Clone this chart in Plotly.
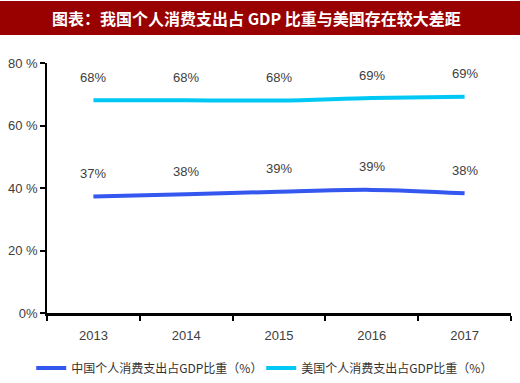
import plotly.graph_objects as go

years = ["2013", "2014", "2015", "2016", "2017"]
china = [37.3, 38.0, 38.8, 39.4, 38.3]
usa = [68.1, 68.1, 68.0, 68.8, 69.2]
china_labels = ["37%", "38%", "39%", "39%", "38%"]
usa_labels = ["68%", "68%", "68%", "69%", "69%"]
y_ticks = [0, 20, 40, 60, 80]
y_ticktext = ["0%", "20 %", "40 %", "60 %", "80 %"]
title_text = "<b>图表：我国个人消费支出占 GDP 比重与美国存在较大差距</b>"
names = ["中国个人消费支出占GDP比重（%）", "美国个人消费支出占GDP比重（%）"]

CH_COLOR = "#3457F0"
US_COLOR = "#00C8F5"
LAB_FONT = "Liberation Sans Narrow, Arial Narrow, Liberation Sans, sans-serif"
CJK = "Noto Sans CJK SC, sans-serif"

fig = go.Figure()
fig.add_trace(go.Scatter(x=years, y=china, mode="lines", name=names[0],
                         line=dict(color=CH_COLOR, width=4, shape="spline")))
fig.add_trace(go.Scatter(x=years, y=usa, mode="lines", name=names[1],
                         line=dict(color=US_COLOR, width=4, shape="spline")))

for ys, labs in [(china, china_labels), (usa, usa_labels)]:
    for i, (y, t) in enumerate(zip(ys, labs)):
        fig.add_annotation(x=i, y=y, text=t, showarrow=False, yshift=23,
                           font=dict(family=LAB_FONT, size=13, color="#404040"))

# title bar
fig.add_shape(type="rect", xref="paper", yref="paper",
              x0=-47/464, x1=473/464, y0=1 + 28/250, y1=1 + 62/250,
              fillcolor="#990000", line=dict(width=0), layer="below")
fig.add_annotation(xref="paper", yref="paper", x=(256-47)/464, y=1 + 45/250,
                   text=title_text, showarrow=False, yanchor="middle",
                   font=dict(family=CJK, size=16, color="white"))

fig.update_layout(
    width=520, height=383,
    margin=dict(l=47, r=9, t=63, b=70, autoexpand=False),
    paper_bgcolor="white", plot_bgcolor="white",
    showlegend=True,
    legend=dict(orientation="h", x=-0.034, y=-0.22, yanchor="middle", xanchor="left",
                font=dict(family=CJK, size=12, color="#333333"),
                entrywidth=185, entrywidthmode="pixels", bgcolor="rgba(0,0,0,0)"),
    xaxis=dict(type="category", range=[-0.5, 4.5], showgrid=False, showline=True,
               linecolor="black", linewidth=3, ticks="outside", tickson="boundaries",
               ticklen=5, tickcolor="black", tickwidth=1.5, ticklabelstandoff=8,
               tickfont=dict(family=LAB_FONT, size=13, color="#404040")),
    yaxis=dict(range=[0, 80], tickvals=y_ticks, ticktext=y_ticktext, showgrid=False,
               zeroline=False, showline=True, linecolor="black", linewidth=1.5,
               ticks="outside", ticklen=5, tickcolor="black", tickwidth=2,
               tickfont=dict(family=LAB_FONT, size=13, color="#404040")),
)

fig.write_html("out.html", config={"displayModeBar": False},
               post_script="document.body.style.margin='0';")
